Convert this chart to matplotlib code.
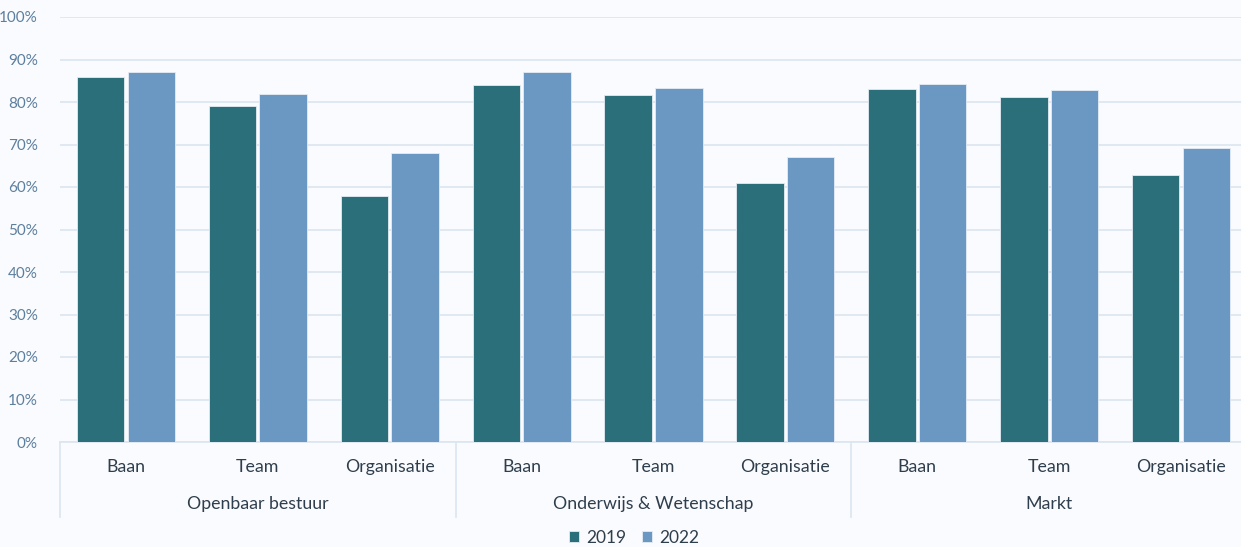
import matplotlib.pyplot as plt
import numpy as np
from matplotlib.ticker import PercentFormatter

# Tevredenheid per sector: baan, team en organisatie (2019 vs 2022)
sectoren = ["Openbaar bestuur", "Onderwijs & Wetenschap", "Markt"]
aspecten = ["Baan", "Team", "Organisatie"]
waarden_2019 = [86, 79, 58, 84, 81.6, 61, 83, 81.2, 62.8]
waarden_2022 = [87, 82, 68, 87, 83.3, 67, 84.2, 82.8, 69.2]
jaren = ["2019", "2022"]

kleur_2019 = "#2B6F7B"
kleur_2022 = "#6A98C3"
achtergrond = "#F9FBFE"
raster = "#DCE6EF"
tekst_donker = "#2F3E4C"
tekst_as = "#5D7F9E"

plt.rcParams['font.family'] = ['Lato', 'DejaVu Sans']

fig = plt.figure(figsize=(12.41, 5.47), dpi=100, facecolor=achtergrond)
ax = fig.add_axes([60 / 1241, 105 / 547, 1187 / 1241, 425 / 547])
ax.set_facecolor(achtergrond)

n = len(waarden_2019)
x = np.arange(n)
breedte = 0.36
ax.bar(x - breedte / 2 - 0.012, waarden_2019, breedte, color=kleur_2019,
       edgecolor="#E4ECF4", linewidth=0.6, label=jaren[0], zorder=3)
ax.bar(x + breedte / 2 + 0.012, waarden_2022, breedte, color=kleur_2022,
       edgecolor="#E4ECF4", linewidth=0.6, label=jaren[1], zorder=3)

ax.set_xlim(-0.5, n - 0.5)
ax.set_ylim(0, 100)
ax.set_yticks(np.arange(0, 101, 10))
ax.yaxis.set_major_formatter(PercentFormatter(decimals=0))
ax.tick_params(axis='y', length=0, labelsize=11, labelcolor=tekst_as, pad=16)
ax.set_xticks([])
ax.grid(axis='y', color=raster, linewidth=1.2, zorder=0)

for kant in ["left", "right", "top"]:
    ax.spines[kant].set_visible(False)
ax.spines["bottom"].set_color(raster)
ax.spines["bottom"].set_linewidth(1.2)

# Labels onder de as: aspecten en sectoren
trans = ax.get_xaxis_transform()
for i in range(n):
    ax.text(i, -0.058, aspecten[i % 3], transform=trans, ha='center', va='center',
            fontsize=12.8, color=tekst_donker)
for g, naam in enumerate(sectoren):
    ax.text(g * 3 + 1, -0.145, naam, transform=trans, ha='center', va='center',
            fontsize=12.8, color=tekst_donker)
for grens in [-0.5, 2.5, 5.5]:
    ax.plot([grens, grens], [0, -0.176], transform=trans, color=raster,
            linewidth=1.2, clip_on=False)

fig.legend(loc='center', bbox_to_anchor=(634 / 1241, 1 - 538 / 547), ncol=2,
           frameon=False, fontsize=12.5, handlelength=0.6, handleheight=0.6,
           handletextpad=0.4, columnspacing=0.9, labelcolor=tekst_donker)

fig.savefig("out.png", dpi=100, facecolor=achtergrond)
